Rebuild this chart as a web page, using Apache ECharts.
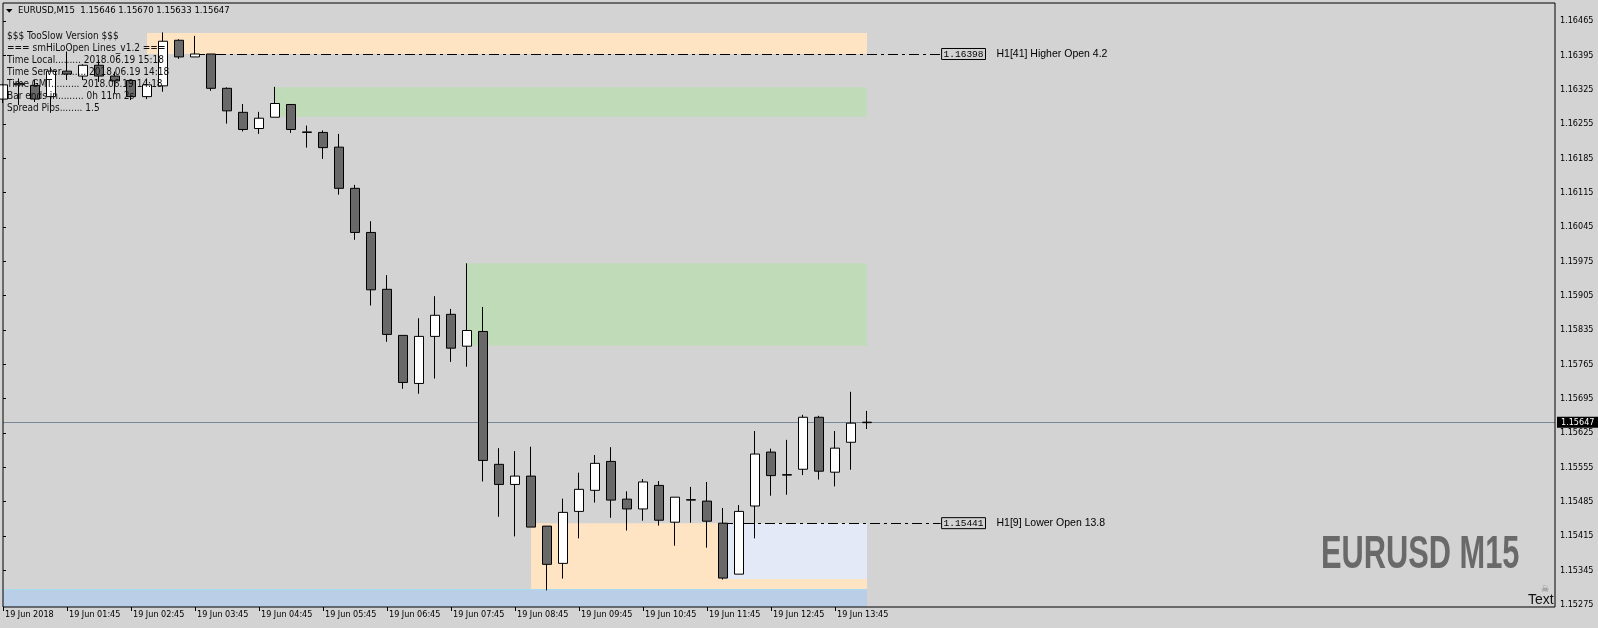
<!DOCTYPE html>
<html><head><meta charset="utf-8">
<script src="https://cdn.jsdelivr.net/npm/echarts@6/dist/echarts.min.js"></script>
<style>html,body{margin:0;padding:0;background:#d3d3d3;overflow:hidden}#c{width:1598px;height:628px}</style>
</head><body><div id="c"></div>
<script>
// ---- data ----
const barTimes = ["00:45","01:00","01:15","01:30","01:45","02:00","02:15","02:30","02:45","03:00",
"03:15","03:30","03:45","04:00","04:15","04:30","04:45","05:00","05:15","05:30",
"05:45","06:00","06:15","06:30","06:45","07:00","07:15","07:30","07:45","08:00",
"08:15","08:30","08:45","09:00","09:15","09:30","09:45","10:00","10:15","10:30",
"10:45","11:00","11:15","11:30","11:45","12:00","12:15","12:30","12:45","13:00",
"13:15","13:30","13:45","14:00","14:15"];
const opens = [1.16306,1.16338,1.16334,1.16311,1.16363,1.16353,1.16375,1.16353,1.16344,1.16311,
1.16333,1.16426,1.16392,1.16398,1.16328,1.16279,1.16246,1.16269,1.16295,1.16239,
1.16238,1.16208,1.16124,1.16034,1.15918,1.15824,1.15726,1.15822,1.15867,1.15802,
1.15832,1.15561,1.15520,1.15537,1.15435,1.15359,1.15465,1.15508,1.15567,1.15490,
1.15470,1.15518,1.15443,1.15488,1.15486,1.15441,1.15337,1.15476,1.15586,1.15540,
1.15551,1.15657,1.15545,1.15606,1.15646];
const closes = [1.16335,1.16335,1.16306,1.16363,1.16357,1.16375,1.16353,1.16343,1.16311,1.16335,
1.16424,1.16392,1.16398,1.16328,1.16282,1.16244,1.16267,1.16297,1.16244,1.16238,
1.16207,1.16124,1.16034,1.15917,1.15826,1.15728,1.15822,1.15865,1.15798,1.15834,
1.15569,1.15520,1.15537,1.15433,1.15357,1.15463,1.15510,1.15563,1.15488,1.15470,
1.15525,1.15447,1.15494,1.15489,1.15445,1.15329,1.15465,1.15582,1.15538,1.15539,
1.15657,1.15547,1.15594,1.15645,1.15647];
const highs = [1.16337,1.16348,1.16345,1.16371,1.16403,1.16377,1.16386,1.16362,1.16345,1.16348,
1.16442,1.16428,1.16435,1.16398,1.16330,1.16296,1.16280,1.16331,1.16296,1.16252,
1.16242,1.16235,1.16131,1.16057,1.15947,1.15824,1.15859,1.15904,1.15878,1.15971,
1.15882,1.15594,1.15588,1.15597,1.15435,1.15491,1.15544,1.15580,1.15596,1.15506,
1.15531,1.15527,1.15494,1.15515,1.15525,1.15472,1.15478,1.15629,1.15593,1.15611,
1.15662,1.15660,1.15629,1.15709,1.15670];
const lows = [1.16298,1.16294,1.16300,1.16279,1.16345,1.16345,1.16341,1.16318,1.16304,1.16306,
1.16321,1.16388,1.16392,1.16323,1.16256,1.16240,1.16235,1.16269,1.16237,1.16207,
1.16184,1.16111,1.16019,1.15885,1.15811,1.15715,1.15705,1.15736,1.15770,1.15760,
1.15526,1.15454,1.15414,1.15433,1.15304,1.15328,1.15410,1.15483,1.15452,1.15426,
1.15446,1.15436,1.15395,1.15442,1.15391,1.15326,1.15337,1.15410,1.15497,1.15499,
1.15539,1.15530,1.15516,1.15550,1.15633];
const yTicks = [1.15275,1.15345,1.15415,1.15485,1.15555,1.15625,1.15695,1.15765,1.15835,
1.15905,1.15975,1.16045,1.16115,1.16185,1.16255,1.16325,1.16395,1.16465];
const yMin = 1.15270, yMax = 1.16502;
const totalSlots = 97;            // visible bar slots across the window
const zoneFrom = [9, 17, 29, 33, 45, 0];
const zoneTo   = [54, 54, 54, 54, 54, 54];
const zoneHigh = [1.16441, 1.16330, 1.15971, 1.15441, 1.15441, 1.15306];
const zoneLow  = [1.16398, 1.16270, 1.15803, 1.15306, 1.15327, 1.15270];
const levelPrice = [1.16398, 1.15441];
const levelFrom = [12, 45];
const levelTo = [58.6, 58.6];
const levelText = ['H1[41] Higher Open 4.2', 'H1[9] Lower Open 13.8'];
const bidPrice = 1.15647;
const symbolTitle = 'EURUSD,M15  1.15646 1.15670 1.15633 1.15647';
const infoLines = ['$$$ TooSlow Version $$$', '=== smHiLoOpen Lines_v1.2 ===',
  'Time Local......... 2018.06.19 15:18', 'Time Server......... 2018.06.19 14:18',
  'Time GMT.......... 2018.06.19 14:18', 'Bar ends in......... 0h 11m 2s', 'Spread Pips........ 1.5'];

// ---- styles ----
const zoneColors = ['#ffe4c4', '#bfdbb7', '#bfdbb7', '#ffe4c4', '#e3e9f7', '#bacee7'];
const F = "'DejaVu Sans Condensed','Liberation Sans',sans-serif";

const categories = barTimes.slice();
while (categories.length < totalSlots + 1) categories.push('');
const candleData = opens.map((o, i) => [o, closes[i], lows[i], highs[i]]);
const showIdx = (i) => i % 4 === 0 && i <= 52;

const chart = echarts.init(document.getElementById('c'), null, {renderer: 'canvas'});
chart.setOption({
  backgroundColor: '#d3d3d3',
  animation: false,
  grid: {left: 3, right: 43, top: 3, bottom: 21, show: true, borderColor: '#000', borderWidth: 1,
         backgroundColor: 'transparent', z: 10},
  xAxis: [{
    type: 'category', data: categories, boundaryGap: false,
    axisLine: {show: false},
    axisTick: {show: true, length: 4, interval: (i) => showIdx(i), lineStyle: {color: '#000'}},
    axisLabel: {interval: (i) => showIdx(i), align: 'left', margin: 3, fontSize: 9, fontFamily: F,
      color: '#000', padding: [0, 0, 0, 2],
      formatter: (v, i) => i === 0 ? '19 Jun 2018' : '19 Jun ' + v},
    splitLine: {show: false}
  }, {
    type: 'value', min: 0, max: totalSlots, show: false
  }],
  yAxis: [{
    type: 'value', position: 'right', min: yMin, max: yMax,
    axisLine: {show: false},
    splitLine: {show: false},
    axisTick: {show: true, length: 3, customValues: yTicks, lineStyle: {color: '#000'}},
    axisLabel: {customValues: yTicks, margin: 5, fontSize: 9, fontFamily: F, color: '#000',
      formatter: (v) => v.toFixed(5)}
  }],
  series: [{
    type: 'line', xAxisIndex: 1, data: [], silent: true, clip: false,
    markArea: {silent: true, z: 0.5,
      data: zoneFrom.map((f, i) => [
        {xAxis: f, yAxis: zoneHigh[i], itemStyle: {color: zoneColors[i], opacity: 1}},
        {xAxis: zoneTo[i], yAxis: zoneLow[i]}])
    },
    markLine: {silent: true, z: 0.8, symbol: ['none', 'none'],
      data: [[{xAxis: zoneFrom[5], yAxis: zoneHigh[5]}, {xAxis: zoneTo[5], yAxis: zoneHigh[5]}]],
      lineStyle: {color: '#a9dcee', width: 1, type: 'solid'}, label: {show: false}}
  }, {
    type: 'line', xAxisIndex: 1, data: [], silent: true, clip: false,
    markLine: {silent: true, z: 1, symbol: ['none', 'none'],
      data: [[
        {xAxis: 0, yAxis: bidPrice, lineStyle: {color: '#778899', width: 1, type: 'solid'},
         label: {show: true, position: 'end', distance: 2, formatter: bidPrice.toFixed(5),
           backgroundColor: '#000', color: '#fff', fontSize: 9, fontFamily: F,
           padding: [1, 4, 0, 4], lineHeight: 10}},
        {xAxis: totalSlots, yAxis: bidPrice}]
      ].concat(levelPrice.map((p, i) => [
        {xAxis: levelFrom[i], yAxis: p,
         lineStyle: {color: '#000', width: 1, type: [10, 4, 3, 4]},
         label: {show: true, position: 'end', distance: 1,
           formatter: '{b|' + p.toFixed(5) + '}{t|' + levelText[i] + '}',
           rich: {
             b: {fontFamily: "'Liberation Mono',monospace", fontSize: 9.5, color: '#000',
                 borderColor: '#000', borderWidth: 1, padding: [1, 2, 0, 2], lineHeight: 9},
             t: {fontFamily: "'Liberation Sans',Arial,sans-serif", fontSize: 10.5, color: '#000',
                 padding: [0, 0, 0, 11]}
           }}},
        {xAxis: levelTo[i], yAxis: p}]))
    }
  }, {
    type: 'candlestick', z: 3, data: candleData, barWidth: 9,
    itemStyle: {color: '#ffffff', color0: '#696969', borderColor: '#000', borderColor0: '#000',
      borderColorDoji: '#000', borderWidth: 1}
  }],
  graphic: [
    {type: 'polygon', z: 20, shape: {points: [[6, 9], [12.5, 9], [9.25, 12.7]]}, style: {fill: '#000'}},
    {type: 'text', z: 20, x: 18, y: 11, style: {text: symbolTitle, font: '9.5px ' + F, fill: '#000',
      textVerticalAlign: 'middle', verticalAlign: 'middle'}}
  ].concat(infoLines.map((t, i) => ({
    type: 'text', z: 20, x: 7, y: 36 + i * 12,
    style: {text: t, font: '10px ' + F, fill: '#111', textVerticalAlign: 'middle', verticalAlign: 'middle'}
  }))).concat([
    {type: 'text', z: 20, x: 1321, y: 555, scaleX: 0.655, originX: 0, originY: 0,
      style: {text: 'EURUSD M15', font: 'bold 47px "Liberation Sans",Arial,sans-serif', fill: '#696969',
        textVerticalAlign: 'middle', verticalAlign: 'middle'}},
    {type: 'text', z: 20, x: 1528, y: 600,
      style: {text: 'Text', font: '14px "Liberation Sans",Arial,sans-serif', fill: '#111',
        textVerticalAlign: 'middle', verticalAlign: 'middle'}},
    {type: 'text', z: 21, x: 1545, y: 590,
      style: {text: '\u2620', font: '9px "DejaVu Sans",sans-serif', fill: '#777',
        textAlign: 'center', align: 'center', textVerticalAlign: 'middle', verticalAlign: 'middle'}}
  ])
});
</script></body></html>
